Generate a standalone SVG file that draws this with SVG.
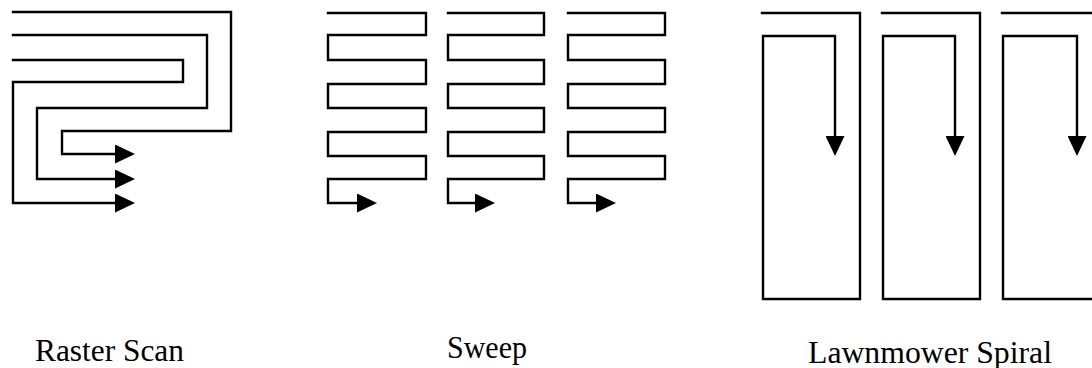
<svg xmlns="http://www.w3.org/2000/svg" width="1092" height="368" viewBox="0 0 1092 368">
<style>
.p{fill:none;stroke:#000;stroke-width:2.4;stroke-linejoin:miter;stroke-linecap:square}
.a{marker-end:url(#ah)}
.t{font-family:"Liberation Serif","Times New Roman",serif;font-size:31px;fill:#000}
</style>
<defs>
<marker id="ah" viewBox="0 0 20 19" markerWidth="20" markerHeight="19" refX="0" refY="9.5" markerUnits="userSpaceOnUse" orient="auto">
<path d="M0,0 L20,9.5 L0,19 z" fill="#000"/>
</marker>
</defs>
<rect width="1092" height="368" fill="#fff"/>
<g id="raster">
<path class="p a" d="M13,12 H231 V131 H62 V154 H115"/>
<path class="p a" d="M13,35 H207 V108 H37 V179 H115"/>
<path class="p a" d="M13,60 H183 V82 H13 V203 H115"/>
<text class="t" x="35" y="361" textLength="149" lengthAdjust="spacingAndGlyphs">Raster Scan</text>
</g>
<g id="sweep">
<path class="p a" d="M328,13 H426 V35 H328 V60 H426 V84 H328 V108 H426 V132 H328 V156 H426 V179 H328 V203 H357"/>
<path class="p a" d="M448,13 H544 V35 H448 V60 H544 V84 H448 V108 H544 V132 H448 V156 H544 V179 H448 V203 H475"/>
<path class="p a" d="M568,13 H665 V35 H568 V60 H665 V84 H568 V108 H665 V132 H568 V156 H665 V179 H568 V203 H596"/>
<text class="t" x="447" y="358" textLength="80" lengthAdjust="spacingAndGlyphs">Sweep</text>
</g>
<g id="lawnmower">
<path class="p a" d="M762,13 H860 V299 H763 V36 H835 V136"/>
<path class="p a" d="M882,13 H980 V299 H883 V36 H955 V136"/>
<path class="p a" d="M1002,13 H1100 V299 H1003 V36 H1077 V136"/>
<text class="t" x="808" y="363" textLength="244" lengthAdjust="spacingAndGlyphs">Lawnmower Spiral</text>
</g>
</svg>
